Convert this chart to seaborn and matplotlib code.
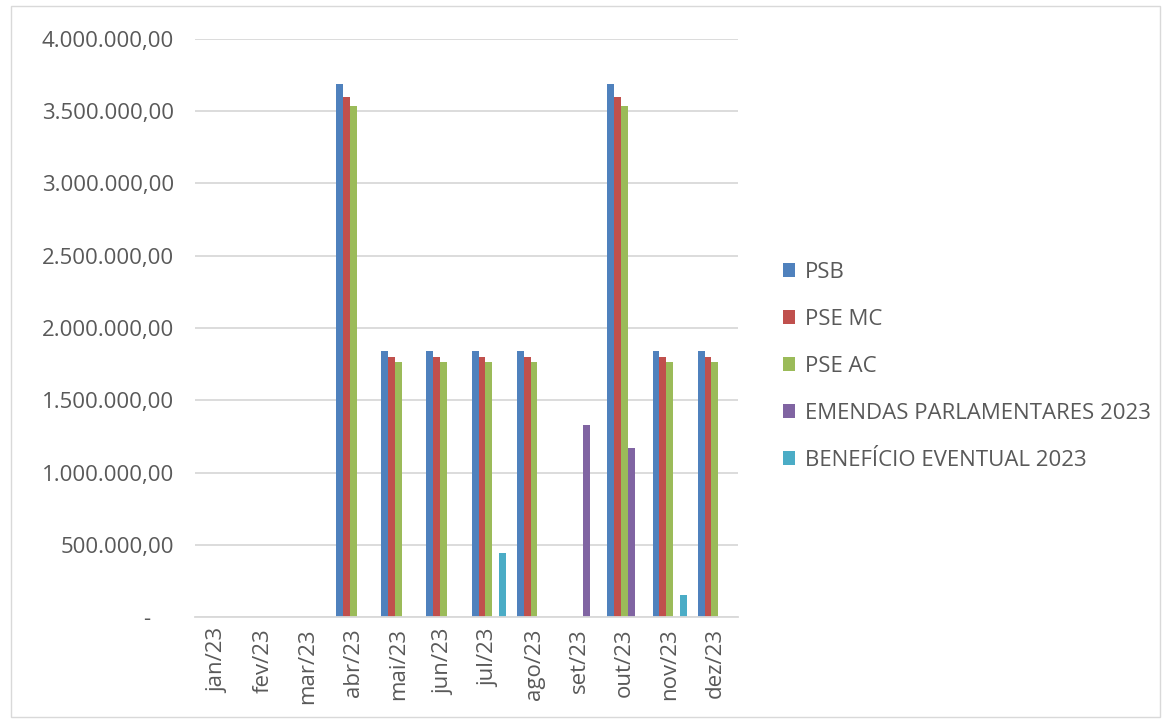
import matplotlib
matplotlib.use("Agg")
import matplotlib.pyplot as plt
import seaborn as sns
import pandas as pd
import numpy as np
from matplotlib.patches import Rectangle
from matplotlib.ticker import FuncFormatter

months = ["jan/23", "fev/23", "mar/23", "abr/23", "mai/23", "jun/23",
          "jul/23", "ago/23", "set/23", "out/23", "nov/23", "dez/23"]
series_names = ["PSB", "PSE MC", "PSE AC", "EMENDAS PARLAMENTARES 2023", "BENEFÍCIO EVENTUAL 2023"]
psb = [0, 0, 0, 3686000, 1843000, 1843000, 1843000, 1843000, 0, 3686000, 1843000, 1843000]
pse_mc = [0, 0, 0, 3596000, 1798000, 1798000, 1798000, 1798000, 0, 3596000, 1798000, 1798000]
pse_ac = [0, 0, 0, 3536000, 1768000, 1768000, 1768000, 1768000, 0, 3536000, 1768000, 1768000]
emendas = [0, 0, 0, 0, 0, 0, 0, 0, 1332000, 1168000, 0, 0]
beneficio = [0, 0, 0, 0, 0, 0, 442000, 0, 0, 0, 150000, 0]
colors = ["#4F81BD", "#C0504D", "#9BBB59", "#8064A2", "#4BACC6"]

rows = []
for name, vals in zip(series_names, [psb, pse_mc, pse_ac, emendas, beneficio]):
    for m, v in zip(months, vals):
        rows.append({"mes": m, "serie": name, "valor": v})
df = pd.DataFrame(rows)

sns.set_style("white")
plt.rcParams["font.family"] = ["Open Sans", "DejaVu Sans"]

fig = plt.figure(figsize=(11.67, 7.21), dpi=100)
ax = fig.add_axes([0.167, 0.144, 0.465, 0.802])

sns.barplot(data=df, x="mes", y="valor", hue="serie", order=months,
            hue_order=series_names, palette=colors, width=0.76,
            linewidth=0, ax=ax, errorbar=None, saturation=1)

ax.set_ylim(0, 4000000)
ax.set_yticks(np.arange(0, 4000001, 500000))

def fmt(v, pos):
    if v == 0:
        return "-    "
    s = f"{v:,.2f}"
    return s.replace(",", "X").replace(".", ",").replace("X", ".")

ax.yaxis.set_major_formatter(FuncFormatter(fmt))
ax.grid(axis="y", color="#D9D9D9", linewidth=1.3)
ax.set_axisbelow(True)
for s in ["top", "right", "left"]:
    ax.spines[s].set_visible(False)
ax.spines["bottom"].set_color("#D9D9D9")
ax.spines["bottom"].set_linewidth(1.3)
ax.tick_params(axis="both", length=0, colors="#595959", labelsize=16)
ax.tick_params(axis="y", pad=15)
ax.tick_params(axis="x", pad=8)
plt.setp(ax.get_xticklabels(), rotation=90)
ax.set_xlabel("")
ax.set_ylabel("")
ax.set_xlim(-0.5, 11.5)

handles, labels = ax.get_legend_handles_labels()
leg = ax.legend(handles, labels, loc="center left", bbox_to_anchor=(1.083, 0.434),
                frameon=False, fontsize=16, labelcolor="#595959",
                handlelength=0.55, handleheight=0.55, handletextpad=0.45,
                labelspacing=1.17, borderpad=0, borderaxespad=0)

fig.patches.append(Rectangle((0.009, 0.006), 0.985, 0.985, transform=fig.transFigure,
                             fill=False, edgecolor="#D9D9D9", linewidth=1))

fig.savefig("out.png", dpi=100)
